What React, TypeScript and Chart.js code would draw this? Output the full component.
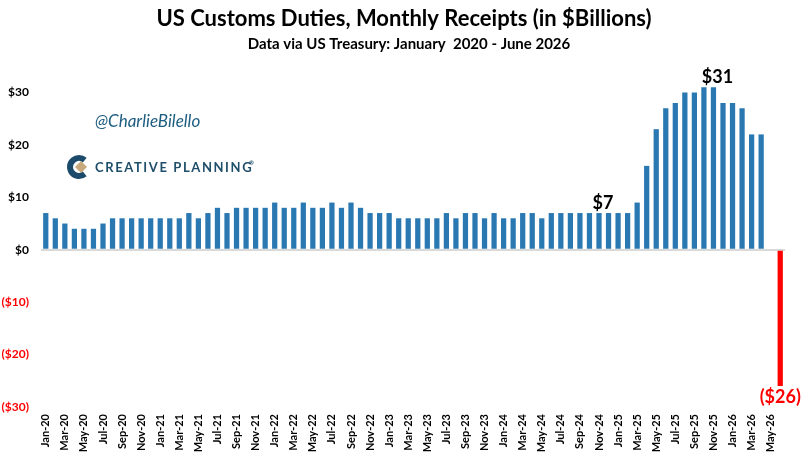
import { useEffect, useRef } from "react";
import { Chart, registerables } from "chart.js";

Chart.register(...registerables);

// Category axis: Jan-20 through Jun-26
const MONTHS = ["Jan", "Feb", "Mar", "Apr", "May", "Jun", "Jul", "Aug", "Sep", "Oct", "Nov", "Dec"];
const YEARS = ["20", "21", "22", "23", "24", "25", "26"];
const categories = YEARS.flatMap((y) => MONTHS.map((m) => `${m}-${y}`)).slice(0, 78);

// Monthly customs duty receipts, $ billions
const receipts2020 = [7, 6, 5, 4, 4, 4, 5, 6, 6, 6, 6, 6];
const receipts2021 = [6, 6, 6, 7, 6, 7, 8, 7, 8, 8, 8, 8];
const receipts2022 = [9, 8, 8, 9, 8, 8, 9, 8, 9, 8, 7, 7];
const receipts2023 = [7, 6, 6, 6, 6, 6, 7, 6, 7, 7, 6, 7];
const receipts2024 = [6, 6, 7, 7, 6, 7, 7, 7, 7, 7, 7, 7];
const receipts2025 = [7, 7, 9, 16, 23, 27, 28, 30, 30, 31, 31, 28];
const receipts2026: (number | null)[] = [28, 27, 22, 22, null, -26];
const receipts: (number | null)[] = [
  ...receipts2020,
  ...receipts2021,
  ...receipts2022,
  ...receipts2023,
  ...receipts2024,
  ...receipts2025,
  ...receipts2026,
];

const yTickValues = [-30, -20, -10, 0, 10, 20, 30];
const calloutMonths = ["Nov-24", "Nov-25", "Jun-26"];

const TITLE = "US Customs Duties, Monthly Receipts (in $Billions)";
const SUBTITLE = "Data via US Treasury: January  2020 - June 2026";
const HANDLE = "@CharlieBilello";
const BRAND = "CREATIVE PLANNING";

const FONT = "Lato, 'Open Sans', sans-serif";
const BLUE = "#2a78b2";
const RED = "#ff0000";

const money = (v: number) => (v < 0 ? `($${-v})` : `$${v}`);

const decorations = {
  id: "decorations",
  afterDraw(chart: Chart) {
    const { ctx } = chart;
    ctx.save();

    // headings
    ctx.fillStyle = "#000";
    ctx.textAlign = "center";
    ctx.textBaseline = "middle";
    ctx.font = `bold 22px ${FONT}`;
    ctx.fillText(TITLE, 404, 19);
    ctx.font = `bold 15px ${FONT}`;
    ctx.fillText(SUBTITLE, 409, 44);

    // handle
    ctx.textAlign = "left";
    ctx.fillStyle = "#1d5d80";
    ctx.font = `italic 17px ${FONT}`;
    ctx.fillText(HANDLE, 95, 122);

    // brand mark
    ctx.strokeStyle = "#1b4a6b";
    ctx.lineWidth = 6;
    ctx.beginPath();
    ctx.arc(79, 167, 9, Math.PI * 0.28, Math.PI * 1.72);
    ctx.stroke();
    ctx.fillStyle = "#c8a97e";
    ctx.beginPath();
    ctx.moveTo(81, 161);
    ctx.lineTo(87, 167);
    ctx.lineTo(81, 173);
    ctx.lineTo(75, 167);
    ctx.closePath();
    ctx.fill();

    ctx.fillStyle = "#1f4e6b";
    ctx.font = `bold 13px ${FONT}`;
    (ctx as any).letterSpacing = "1.6px";
    ctx.fillText(BRAND, 95, 168);
    (ctx as any).letterSpacing = "0px";
    ctx.font = `bold 6px ${FONT}`;
    ctx.fillText("®", 249, 163);

    // value callouts
    const meta = chart.getDatasetMeta(0);
    const yScale = chart.scales.y;
    ctx.textAlign = "center";
    ctx.font = `bold 18px ${FONT}`;
    calloutMonths.forEach((m) => {
      const i = categories.indexOf(m);
      const v = receipts[i];
      if (v == null) return;
      const x = (meta.data[i] as any).x;
      const py = yScale.getPixelForValue(v);
      if (v >= 0) {
        ctx.fillStyle = "#000";
        ctx.textBaseline = "bottom";
        ctx.fillText(money(v), x + 4, py - 1);
      } else {
        ctx.fillStyle = RED;
        ctx.textBaseline = "top";
        ctx.fillText(money(v), x, py + 2);
      }
    });

    ctx.restore();
  },
};

export default function App() {
  const canvasRef = useRef<HTMLCanvasElement | null>(null);

  useEffect(() => {
    if (!canvasRef.current) return;
    const chart = new Chart(canvasRef.current, {
      type: "bar",
      data: {
        labels: categories,
        datasets: [
          {
            data: receipts,
            backgroundColor: receipts.map((v) => (v != null && v < 0 ? RED : BLUE)),
            barPercentage: 0.55,
            categoryPercentage: 1,
          },
        ],
      },
      options: {
        responsive: false,
        animation: false,
        layout: { padding: { top: 82, right: 23, left: 0, bottom: 0 } },
        plugins: {
          legend: { display: false },
          tooltip: { enabled: false },
          title: { display: false },
        },
        scales: {
          x: {
            grid: { display: false, drawTicks: false },
            border: { display: false },
            afterFit: (s: any) => {
              s.height = 54;
            },
            ticks: {
              autoSkip: false,
              minRotation: 90,
              maxRotation: 90,
              padding: 7,
              color: "#000",
              font: { family: FONT, size: 11, weight: "bold" },
              callback: (_v: any, i: number) => (i % 2 === 0 ? categories[i] : ""),
            },
          },
          y: {
            min: -30,
            max: 32,
            afterFit: (s: any) => {
              s.width = 41;
            },
            afterBuildTicks: (s: any) => {
              s.ticks = yTickValues.map((value) => ({ value }));
            },
            border: { display: false },
            grid: {
              drawTicks: false,
              color: (c: any) => (c.tick && c.tick.value === 0 ? "#d9d9d9" : "rgba(0,0,0,0)"),
              lineWidth: 2,
            },
            ticks: {
              padding: 12,
              font: { family: FONT, size: 12, weight: "bold" },
              color: (c: any) => (c.tick && c.tick.value < 0 ? RED : "#000"),
              callback: (v: any) => money(Number(v)),
            },
          },
        },
      },
      plugins: [decorations],
    });
    return () => chart.destroy();
  }, []);

  return (
    <div style={{ position: "fixed", left: 0, top: 0, width: 808, height: 461, background: "#fff" }}>
      <canvas ref={canvasRef} width={808} height={461} style={{ display: "block" }} />
    </div>
  );
}
